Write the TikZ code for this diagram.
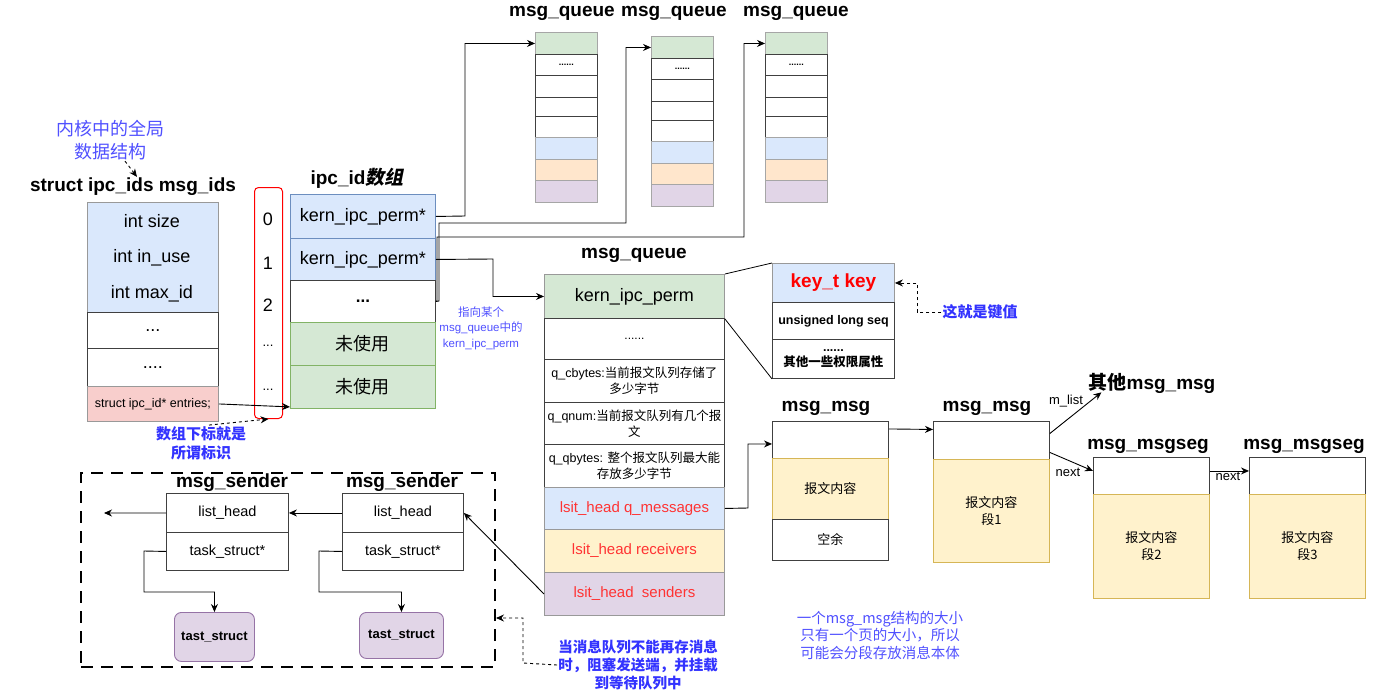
\documentclass[tikz,border=0pt]{standalone}
\usepackage{fontspec}
\setmainfont{Liberation Sans}
\newfontfamily\cjkf{Noto Sans CJK SC}
\newfontfamily\cjkit{Noto Sans CJK SC}[FakeSlant=0.2]
\usetikzlibrary{arrows.meta,calc}
\definecolor{blueF}{HTML}{DAE8FC}
\definecolor{blueD}{HTML}{6C8EBF}
\definecolor{greenF}{HTML}{D5E8D4}
\definecolor{greenD}{HTML}{82B366}
\definecolor{orangeF}{HTML}{FFE6CC}
\definecolor{purpleF}{HTML}{E1D5E7}
\definecolor{purpleD}{HTML}{9673A6}
\definecolor{yellowF}{HTML}{FFF2CC}
\definecolor{yellowD}{HTML}{D6B656}
\definecolor{pinkF}{HTML}{F8CECC}
\definecolor{txtblue}{HTML}{3333FF}
\definecolor{txtblueL}{HTML}{5050FF}
\definecolor{txtred}{HTML}{FF3333}
\definecolor{keyred}{HTML}{FF0000}
\newcommand\zh[1]{{\cjkf #1}}
\newcommand\fs[2]{\fontsize{#1}{#2}\selectfont}
\newcommand\qstack[3]{%
\node[cell, draw=gray!70, fill=greenF, minimum width=62, minimum height=22] (#1g) at (#2,#3) {};
\node[cell, minimum width=62, minimum height=21, font=\bfseries\fs{9}{10}] (#1a) at (#2,#3+22) {......};
\node[cell, minimum width=62, minimum height=22] (#1b) at (#2,#3+43) {};
\node[cell, minimum width=62, minimum height=19] (#1c) at (#2,#3+65) {};
\node[cell, minimum width=62, minimum height=21] (#1d) at (#2,#3+84) {};
\node[cell, draw=gray!70, fill=blueF, minimum width=62, minimum height=22] (#1e) at (#2,#3+105) {};
\node[cell, draw=gray!70, fill=orangeF, minimum width=62, minimum height=21] (#1f) at (#2,#3+127) {};
\node[cell, draw=gray!70, fill=purpleF, minimum width=62, minimum height=22] (#1h) at (#2,#3+148) {};
}
\begin{document}
\begin{tikzpicture}[x=1pt,y=-1pt,
  every node/.style={inner sep=1pt},
  cell/.style={draw=black!75, line width=0.9pt, anchor=north west, inner sep=0pt, align=center, font=\fs{13}{15}},
  ccell/.style={cell, draw=gray!80},
  arr/.style={-{Stealth[length=8pt,width=7pt]}, line width=0.9pt},
  darr/.style={arr, dash pattern=on 3pt off 3pt},
  ttl/.style={font=\bfseries\fs{19}{22}},
  big/.style={font=\fs{18}{20}},
  bluenote/.style={text=txtblue, font=\cjkf\bfseries\fs{14.5}{18}, align=center},
]
\useasboundingbox (0,0) rectangle (1381,699);

% ---------- msg_ids ----------
\node[font=\cjkf\fs{18}{23}, text=txtblueL, align=center] (kn) at (110,140) {内核中的全局\\数据结构};
\node[ttl] (idsT) at (133,187) {struct ipc\_ids msg\_ids};
\node[ccell, fill=blueF, minimum width=131, minimum height=110] (idsTop) at (87,202) {};
\node[big] (isz) at (152,221) {int size};
\node[big] (iuse) at (152,258) {int in\_use};
\node[big] (imax) at (152,294) {int max\_id};
\node[cell, minimum width=131, minimum height=36, font=\fs{18}{20}] (idsD1) at (87,312) {...};
\node[cell, minimum width=131, minimum height=38, font=\fs{18}{20}] (idsD2) at (87,348) {....};
\node[ccell, fill=pinkF, minimum width=131, minimum height=35, font=\fs{12.5}{14}] (idsE) at (87,386) {struct ipc\_id* entries;};
\draw[darr] ([xshift=15pt]kn.south) -- ([xshift=4pt]idsT.north);

% ---------- index ----------
\node[draw=red, rounded corners=4pt, line width=1pt, minimum width=28, minimum height=231, anchor=north west] (idx) at (254,187) {};
\node[big] (n0) at (268,219) {0};
\node[big] (n1) at (268,263) {1};
\node[big] (n2) at (268,305) {2};
\node[font=\fs{13}{14}] (n3) at (268,346) {...};
\node[font=\fs{13}{14}] (n4) at (268,390) {...};
\node[bluenote, font=\cjkf\bfseries\fs{15}{19}] (sub) at (201,443) {数组下标就是\\所谓标识};
\draw[darr] ([xshift=8pt]sub.north) -- (idx.south);

% ---------- ipc_id array ----------
\node[ttl] (ipcT) at (357,178) {ipc\_id{\cjkit 数组}};
\node[cell, draw=blueD, fill=blueF, minimum width=145, minimum height=44, font=\fs{18}{20}] (ipc0) at (290,194) {kern\_ipc\_perm*};
\node[cell, draw=blueD, fill=blueF, minimum width=145, minimum height=42, font=\fs{18}{20}] (ipc1) at (290,238) {kern\_ipc\_perm*};
\node[cell, minimum width=145, minimum height=42, font=\bfseries\fs{17}{20}] (ipc2) at (290,280) {...};
\node[cell, draw=greenD, fill=greenF, minimum width=145, minimum height=43, font=\cjkf\fs{18}{20}] (ipc3) at (290,322) {未使用};
\node[cell, draw=greenD, fill=greenF, minimum width=145, minimum height=43, font=\cjkf\fs{18}{20}] (ipc4) at (290,365) {未使用};
\draw[arr] (idsE.east) -- ([yshift=2pt]ipc4.south west);

% ---------- top msg_queue stacks ----------
\node[ttl] (q1T) at (562,13) {msg\_queue};
\node[ttl] (q2T) at (674,13) {msg\_queue};
\node[ttl] (q3T) at (796,13) {msg\_queue};
\qstack{sa}{535}{32}
\qstack{sb}{651}{36}
\qstack{sc}{765}{32}
\draw[arr] (ipc0.east) -- (465,216) |- (sag.west);
\draw[arr] (ipc2.east) -- (439,301) |- (626,223) |- (sbg.west);
\draw[arr] (ipc2.east) -- (437,301) |- (744,237) |- (scg.west);

% ---------- main msg_queue ----------
\node[ttl] (mqT) at (634,255) {msg\_queue};
\node[cell, draw=gray!80, fill=greenF, minimum width=180, minimum height=44, font=\fs{18}{20}] (mq0) at (544,274) {kern\_ipc\_perm};
\node[cell, minimum width=180, minimum height=41, font=\fs{12}{14}] (mq1) at (544,318) {......};
\node[cell, minimum width=180, minimum height=43, font=\fs{12.5}{16}] (mq2) at (544,359) {q\_cbytes:\zh{当前报文队列存储了}\\\zh{多少字节}};
\node[cell, minimum width=180, minimum height=42, font=\fs{12.5}{16}] (mq3) at (544,402) {q\_qnum:\zh{当前报文队列有几个报}\\\zh{文}};
\node[cell, minimum width=180, minimum height=43, font=\fs{12.5}{16}] (mq4) at (544,444) {q\_qbytes: \zh{整个报文队列最大能}\\\zh{存放多少字节}};
\node[cell, draw=gray!80, fill=blueF, text=txtred, minimum width=180, minimum height=42, font=\fs{15}{17}] (mq5) at (544,487) {lsit\_head q\_messages};
\node[cell, draw=gray!80, fill=yellowF, text=txtred, minimum width=180, minimum height=43, font=\fs{15}{17}] (mq6) at (544,529) {lsit\_head receivers};
\node[cell, draw=gray!80, fill=purpleF, text=txtred, minimum width=180, minimum height=43, font=\fs{15}{17}] (mq7) at (544,572) {lsit\_head\ \ senders};
\draw[arr] (ipc1.east) -- (493,259) |- (mq0.west);
\node[font=\fs{11.5}{15.5}, text=txtblueL, align=center] (ptr) at (481,328) {\zh{指向某个}\\msg\_queue\zh{中的}\\kern\_ipc\_perm};

% ---------- kern_ipc_perm detail ----------
\node[cell, draw=gray!80, fill=blueF, text=keyred, minimum width=122, minimum height=39, font=\bfseries\fs{19}{21}] (k0) at (772,263) {key\_t key};
\node[cell, minimum width=122, minimum height=37, font=\bfseries\fs{12.5}{14}] (k1) at (772,302) {unsigned long seq};
\node[cell, minimum width=122, minimum height=39, font=\bfseries\fs{12.5}{15}] (k2) at (772,339) {......\\\zh{其他一些权限属性}};
\draw[line width=0.8pt] (mq0.north east) -- (k0.north west);
\draw[line width=0.8pt] (mq0.south east) -- (k2.south west);
\node[bluenote, font=\cjkf\bfseries\fs{15}{18}] (kv) at (980,312) {这就是键值};
\draw[darr] (kv.west) -- (917,312) |- (k0.east);

% ---------- msg_msg ----------
\node[ttl] (m1T) at (826,408) {msg\_msg};
\node[cell, minimum width=116, minimum height=37] (m1a) at (772,421) {};
\node[cell, draw=yellowD, fill=yellowF, minimum width=116, minimum height=61, font=\cjkf\fs{13}{17}] (m1b) at (772,458) {报文内容};
\node[cell, minimum width=116, minimum height=41, font=\cjkf\fs{13}{17}] (m1c) at (772,519) {空余};
\node[ttl] (m2T) at (987,408) {msg\_msg};
\node[cell, minimum width=116, minimum height=38] (m2a) at (933,421) {};
\node[cell, draw=yellowD, fill=yellowF, minimum width=116, minimum height=103, font=\cjkf\fs{13}{17}] (m2b) at (933,459) {报文内容\\段1};
\node[ttl] (g1T) at (1148,446) {msg\_msgseg};
\node[cell, minimum width=116, minimum height=37] (g1a) at (1093,457) {};
\node[cell, draw=yellowD, fill=yellowF, minimum width=116, minimum height=104, font=\cjkf\fs{13}{17}] (g1b) at (1093,494) {报文内容\\段2};
\node[ttl] (g2T) at (1304,446) {msg\_msgseg};
\node[cell, minimum width=116, minimum height=37] (g2a) at (1249,457) {};
\node[cell, draw=yellowD, fill=yellowF, minimum width=116, minimum height=104, font=\cjkf\fs{13}{17}] (g2b) at (1249,494) {报文内容\\段3};
\node[font=\bfseries\fs{19}{22}] (other) at (1152,383) {\zh{其他}msg\_msg};
\draw[arr] (mq5.east) -- (748,508) |- ([yshift=-4pt]m1a.west);
\draw[arr] ([yshift=11pt]m1a.east) -- ([yshift=11pt]m2a.west);
\draw[arr] ([yshift=7pt]m2a.east) -- ([xshift=14pt,yshift=2pt]other.south west);
\node[font=\fs{13}{15}] (ml) at (1066,401) {m\_list};
\draw[arr] ([yshift=-12pt]m2a.east) -- ([yshift=5pt]g1a.west);
\node[font=\fs{13}{15}] (nx1) at (1068,472) {next};
\draw[arr] ([yshift=5pt]g1a.east) -- ([yshift=5pt]g2a.west);
\node[font=\fs{13}{15}] (nx2) at (1228,476) {next};
\node[font=\cjkf\fs{14.5}{17.5}, text=txtblueL, align=center] (note2) at (880,635) {一个msg\_msg结构的大小\\只有一个页的大小，所以\\可能会分段存放消息本体};

% ---------- msg_sender group ----------
\node[draw, line width=2pt, dash pattern=on 12pt off 8pt, minimum width=414, minimum height=194, anchor=north west] (grp) at (80,472) {};
\node[ttl] (s1T) at (232,483) {msg\_sender};
\node[ttl] (s2T) at (402,483) {msg\_sender};
\node[cell, minimum width=122, minimum height=39, font=\fs{14.5}{16}] (sa1) at (166,493) {list\_head};
\node[cell, minimum width=122, minimum height=38, font=\fs{14.5}{16}] (sb1) at (166,532) {task\_struct*};
\node[cell, minimum width=121, minimum height=39, font=\fs{14.5}{16}] (sa2) at (342,493) {list\_head};
\node[cell, minimum width=121, minimum height=38, font=\fs{14.5}{16}] (sb2) at (342,532) {task\_struct*};
\node[cell, draw=purpleD, fill=purpleF, rounded corners=7pt, minimum width=80, minimum height=49, font=\bfseries\fs{13}{15}] (t1) at (174,612) {tast\_struct};
\node[cell, draw=purpleD, fill=purpleF, rounded corners=7pt, minimum width=84, minimum height=46, font=\bfseries\fs{13}{15}] (t2) at (359,612) {tast\_struct};
\coordinate (lft) at (104,513);
\draw[arr] (sa1.west) -- (lft);
\draw[arr] (sa2.west) -- (sa1.east);
\draw[arr] (mq7.west) -- (sa2.east);
\draw[arr] (sb1.west) -- (144,551) -- (144,592) -| (t1.north);
\draw[arr] (sb2.west) -- (319,551) -- (319,592) -| (t2.north);
\node[bluenote] (blk) at (638,665) {当消息队列不能再存消息\\时，阻塞发送端，并挂载\\到等待队列中};
\draw[darr] (blk.west) -- (523,663) |- ([yshift=-48pt]grp.east);
\end{tikzpicture}
\end{document}
